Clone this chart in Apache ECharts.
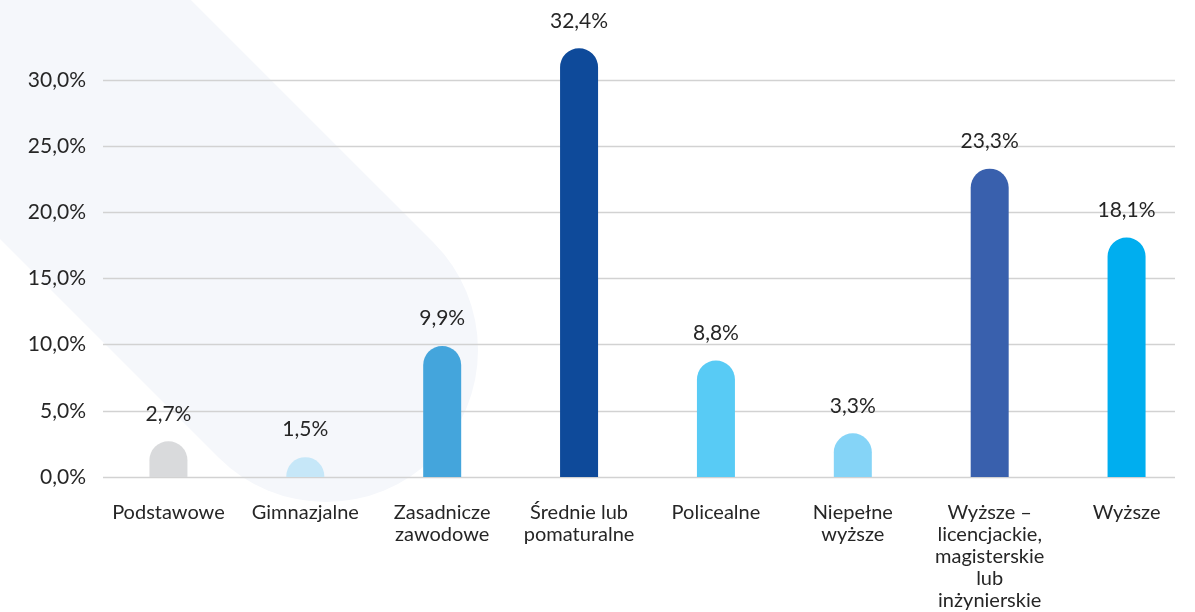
<!DOCTYPE html>
<html>
<head>
<meta charset="utf-8">
<script src="https://cdn.jsdelivr.net/npm/echarts@6/dist/echarts.min.js"></script>
<style>
  html, body { margin: 0; padding: 0; background: #fff; }
  #chart { width: 1195px; height: 612px; }
</style>
</head>
<body>
<div id="chart"></div>
<script>
  // poziom wykształcenia
  var categories = [
    'Podstawowe',
    'Gimnazjalne',
    'Zasadnicze\nzawodowe',
    'Średnie lub\npomaturalne',
    'Policealne',
    'Niepełne\nwyższe',
    'Wyższe –\nlicencjackie,\nmagisterskie\nlub\ninżynierskie',
    'Wyższe'
  ]
  var values = [2.7, 1.5, 9.9, 32.4, 8.8, 3.3, 23.3, 18.1]
  var barColors = ['#D9DADC', '#C6E7F8', '#44A5DC', '#0E4A9A', '#58CBF5', '#85D4F7', '#3960AD', '#00AEEF']
  var yTicks = [0, 5, 10, 15, 20, 25, 30]

  var fontFamily = 'Lato, "Noto Sans", sans-serif'
  var textColor = '#262626'

  function pct (v) {
    return v.toFixed(1).replace('.', ',') + '%'
  }

  var chart = echarts.init(document.getElementById('chart'))

  var option = {
    animation: false,
    backgroundColor: '#fff',
    graphic: [{
      type: 'rect',
      z: -10,
      silent: true,
      x: 326,
      y: 350,
      rotation: -Math.PI / 4,
      shape: { x: -1100, y: -152, width: 1252, height: 304, r: 152 },
      style: { fill: '#F5F7FB' }
    }],
    grid: [
      // bars
      { left: 100, width: 1096, top: 80, bottom: 135 },
      // split lines + y labels
      { left: 103, right: 20, top: 80, bottom: 135 }
    ],
    xAxis: [{
      type: 'category',
      gridIndex: 0,
      data: categories,
      axisLine: { show: false },
      axisTick: { show: false },
      axisLabel: {
        interval: 0,
        margin: 25,
        color: textColor,
        fontFamily: fontFamily,
        fontSize: 20,
        lineHeight: 22,
        align: 'center'
      }
    }, {
      type: 'value',
      gridIndex: 1,
      show: false
    }],
    yAxis: [{
      type: 'value',
      gridIndex: 0,
      min: 0,
      max: 30,
      show: false
    }, {
      type: 'value',
      gridIndex: 1,
      min: yTicks[0],
      max: yTicks[yTicks.length - 1],
      interval: 5,
      axisLine: { show: false },
      axisTick: { show: false },
      splitLine: { lineStyle: { color: '#D2D2D2', width: 1.3 } },
      axisLabel: {
        margin: 17,
        color: textColor,
        fontFamily: fontFamily,
        fontSize: 21,
        formatter: function (v) { return pct(v) }
      }
    }],
    series: [{
      type: 'bar',
      xAxisIndex: 0,
      yAxisIndex: 0,
      clip: false,
      barWidth: 38,
      data: values.map(function (v, i) {
        return { value: v, itemStyle: { color: barColors[i] } }
      }),
      itemStyle: { borderRadius: [19, 19, 0, 0] },
      label: {
        show: true,
        position: 'top',
        distance: 17,
        color: textColor,
        fontFamily: fontFamily,
        fontSize: 21,
        formatter: function (p) { return pct(p.value) }
      }
    }]
  }

  chart.setOption(option)
</script>
</body>
</html>
